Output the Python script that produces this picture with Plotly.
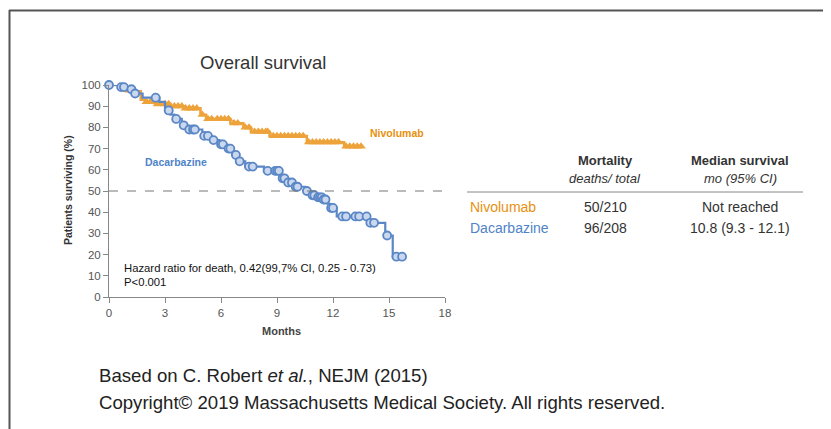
import numpy as np
import plotly.graph_objects as go

# ---------------- data ----------------
niv_t = [0, 0.5, 0.9, 1.7, 2.0, 2.5, 3.3, 4.0, 4.9, 5.2, 6.5, 7.2, 7.6, 8.6, 10.6, 12.6, 13.5]
niv_s = [100, 99, 97, 93, 92, 91, 90, 89, 86, 84, 82, 80, 78, 76, 73, 71, 71]
niv_cens = [2.0, 2.2, 2.4, 2.6, 3.0, 3.2, 3.5, 3.7, 3.9, 4.1, 4.3, 4.5, 4.7, 5.0, 5.3, 5.5,
            5.8, 6.0, 6.2, 6.4, 6.7, 6.9, 7.3, 7.5, 7.8, 8.0, 8.2, 8.4, 8.5, 8.8, 9.0, 9.2,
            9.4, 9.6, 9.8, 10.0, 10.2, 10.4, 10.7, 10.9, 11.1, 11.3, 11.5, 11.7, 11.9, 12.1,
            12.3, 12.7, 12.9, 13.1, 13.3, 13.5]

dac_t = [0, 0.6, 1.0, 1.3, 1.8, 2.7, 3.0, 3.3, 3.5, 3.9, 4.2, 5.0, 5.5, 5.9, 6.3, 6.6, 6.9,
         7.3, 8.3, 9.2, 9.5, 9.9, 10.5, 10.8, 11.1, 11.5, 11.7, 11.8, 12.2, 13.9, 14.8, 15.2, 15.7]
dac_s = [100, 99, 98, 96, 94, 92, 88, 86, 84, 81, 79, 76, 74, 72, 70, 67, 64,
         61.5, 59.5, 56, 54, 52, 50, 48, 47, 46, 44, 42, 38, 35, 29, 19, 19]
dac_cens = [0.0, 0.65, 0.8, 1.2, 1.4, 2.5, 3.2, 3.6, 4.0, 4.3, 4.5, 4.6, 5.1, 5.3, 5.6, 6.0,
            6.1, 6.4, 6.5, 6.8, 7.0, 7.5, 7.7, 8.5, 8.9, 9.0, 9.1, 9.3, 9.4, 9.6, 9.8, 10.0,
            10.1, 10.6, 10.9, 11.0, 11.2, 11.3, 11.4, 11.5, 11.6, 11.9, 12.0, 12.5, 12.7,
            13.2, 13.4, 13.8, 14.0, 14.2, 14.9, 15.4, 15.7]

x_ticks = [0, 3, 6, 9, 12, 15, 18]
y_ticks = [0, 10, 20, 30, 40, 50, 60, 70, 80, 90, 100]

table_cols = ["Mortality", "Median survival"]
table_sub = ["deaths/ total", "mo (95% CI)"]
groups = ["Nivolumab", "Dacarbazine"]
mortality = ["50/210", "96/208"]
median_surv = ["Not reached", "10.8 (9.3 - 12.1)"]

ORANGE = "#EDA33A"
ORANGE_TXT = "#E8900E"
BLUE = "#5B87C6"
BLUE_FILL = "#C9D8EE"
BLUE_TXT = "#4F83C8"
FONT = "Liberation Sans, Arial, sans-serif"


def step_at(ts, ss, t):
    i = np.searchsorted(np.array(ts), t, side="right") - 1
    return ss[max(i, 0)]


# ---------------- geometry (reference pixel space; page has 8px body margin) ----------------
OFF = 8
W_REF, H_REF = 831, 429
W, H = W_REF - OFF, H_REF - OFF
L, R, T, B = 109, 445, 85, 297


def px(x):
    return (x - L) / (R - L)


def py(y):
    return (B - y) / (B - T)


fig = go.Figure()

fig.add_trace(go.Scatter(x=niv_t, y=niv_s, mode="lines", line=dict(color=ORANGE, width=2.5, shape="hv"),
                         cliponaxis=False, hoverinfo="skip"))
fig.add_trace(go.Scatter(x=niv_cens, y=[step_at(niv_t, niv_s, t) for t in niv_cens], mode="markers",
                         marker=dict(symbol="triangle-up", size=8.5, color=ORANGE, line=dict(width=0)),
                         cliponaxis=False))
fig.add_trace(go.Scatter(x=dac_t, y=dac_s, mode="lines", line=dict(color=BLUE, width=2.2, shape="hv"),
                         cliponaxis=False, hoverinfo="skip"))
fig.add_trace(go.Scatter(x=dac_cens, y=[step_at(dac_t, dac_s, t) for t in dac_cens], mode="markers",
                         marker=dict(symbol="circle", size=8, color=BLUE_FILL, line=dict(width=1.8, color=BLUE)),
                         cliponaxis=False))

fig.add_shape(type="line", xref="x", yref="y", x0=0, x1=18, y0=50, y1=50,
              line=dict(color="#777", width=1, dash="dash"))

ann = []
ann.append(dict(text="Overall survival", x=px(263), y=py(62), font=dict(size=18.5, color="#333")))
ann.append(dict(text="<b>Patients surviving (%)</b>", x=px(68), y=py(190), textangle=-90,
                font=dict(size=10.5, color="#333")))
ann.append(dict(text="<b>Months</b>", x=px(281), y=py(331), font=dict(size=11, color="#444")))
ann.append(dict(text="<b>Nivolumab</b>", x=px(368), y=py(133), xanchor="left",
                font=dict(size=10.5, color=ORANGE_TXT)))
ann.append(dict(text="<b>Dacarbazine</b>", x=px(143), y=py(162), xanchor="left",
                font=dict(size=10.5, color=BLUE_TXT)))
ann.append(dict(text="Hazard ratio for death, 0.42(99,7% CI, 0.25 - 0.73)", x=px(122), y=py(268),
                xanchor="left", font=dict(size=11.3, color="#111")))
ann.append(dict(text="P<0.001", x=px(122), y=py(282), xanchor="left", font=dict(size=11.3, color="#111")))

col_x = [605, 740]
for cx, h, s in zip(col_x, table_cols, table_sub):
    ann.append(dict(text="<b>" + h + "</b>", x=px(cx), y=py(160), font=dict(size=13, color="#333")))
    ann.append(dict(text="<i>" + s + "</i>", x=px(cx), y=py(178), font=dict(size=13, color="#333")))
row_y = [207, 228]
row_col = [ORANGE_TXT, BLUE_TXT]
for ry, g, m, md, c in zip(row_y, groups, mortality, median_surv, row_col):
    ann.append(dict(text=g, x=px(468), y=py(ry), xanchor="left", font=dict(size=14, color=c)))
    ann.append(dict(text=m, x=px(col_x[0]), y=py(ry), font=dict(size=14, color="#333")))
    ann.append(dict(text=md, x=px(col_x[1]), y=py(ry), font=dict(size=14, color="#333")))

ann.append(dict(text="Based on C. Robert <i>et al.</i>, NEJM (2015)", x=px(97), y=py(375), xanchor="left",
                font=dict(size=18.6, color="#222")))
ann.append(dict(text="Copyright© 2019 Massachusetts Medical Society. All rights reserved.", x=px(97), y=py(402),
                xanchor="left", font=dict(size=18.6, color="#222")))

for a in ann:
    a.setdefault("xanchor", "center")
    a.update(xref="paper", yref="paper", showarrow=False, yanchor="middle")
fig.update_layout(annotations=ann)

# table rule and outer frame
fig.add_shape(type="line", xref="paper", yref="paper", x0=px(467), x1=px(803), y0=py(192), y1=py(192),
              line=dict(color="#888", width=1))
fig.add_shape(type="line", xref="paper", yref="paper", x0=px(9), x1=px(840), y0=py(10.5), y1=py(10.5),
              line=dict(color="#555", width=2))
fig.add_shape(type="line", xref="paper", yref="paper", x0=px(9.5), x1=px(9.5), y0=py(10), y1=py(440),
              line=dict(color="#555", width=2))

fig.update_layout(
    width=W, height=H, autosize=False,
    margin=dict(l=L - OFF, r=W_REF - R, t=T - OFF, b=H_REF - B, pad=0),
    paper_bgcolor="white", plot_bgcolor="white",
    showlegend=False,
    font=dict(family=FONT, color="#333"),
    xaxis=dict(range=[0, 18], tickvals=x_ticks, showgrid=False, zeroline=False, showline=True,
               linecolor="#888", linewidth=1, ticks="outside", ticklen=5, tickcolor="#888",
               tickfont=dict(size=11.5, color="#555")),
    yaxis=dict(range=[0, 100], tickvals=y_ticks, showgrid=False, zeroline=False, showline=True,
               linecolor="#888", linewidth=1, ticks="outside", ticklen=5, tickcolor="#888",
               tickfont=dict(size=11.5, color="#555")),
)

fig.write_html("out.html")
